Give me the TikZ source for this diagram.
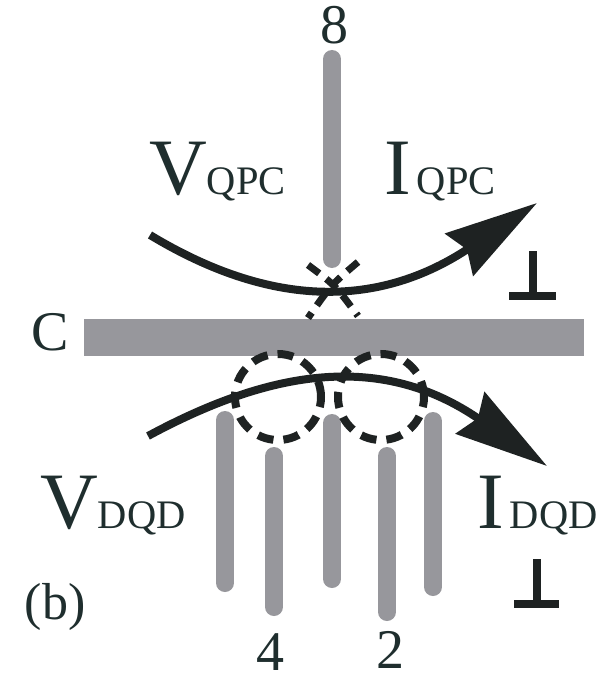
\documentclass[tikz,border=0pt]{standalone}
\usepackage{fontspec}
\setmainfont{Liberation Serif}
\usepackage{xcolor}
\usetikzlibrary{arrows.meta,positioning,calc}
\definecolor{gategray}{HTML}{97979C}
\definecolor{inkdark}{HTML}{1E2222}
\definecolor{labeldark}{HTML}{1F2E2E}
\newcommand{\subfont}{\fontsize{40.5}{40}\selectfont}
\begin{document}
\begin{tikzpicture}[x=1pt,y=-1pt,
   gate/.style={line width=18pt,gategray,line cap=round},
   current/.style={line width=8pt,inkdark,-{Stealth[length=93pt,width=50pt,inset=9pt]}},
   dot/.style={line width=8pt,inkdark,dash pattern=on 16pt off 10pt},
   xdot/.style={line width=7pt,inkdark,dash pattern=on 14pt off 9pt},
   gnd/.style={line width=8pt,inkdark},
   big/.style={anchor=base west,inner sep=0pt,text=labeldark,font=\fontsize{80}{80}\selectfont},
   num/.style={inner sep=0pt,text=labeldark,font=\fontsize{56}{56}\selectfont}]
  \useasboundingbox (0,0) rectangle (611,674);
  % gates
  \coordinate (t8) at (332,59);    \coordinate (b8) at (332,259);
  \coordinate (t1) at (225,420);   \coordinate (b1) at (225,583);
  \coordinate (t4) at (274,456);   \coordinate (b4) at (274,607);
  \coordinate (t3) at (332,423);   \coordinate (b3) at (332,579);
  \coordinate (t2) at (387,456);   \coordinate (b2) at (387,612);
  \coordinate (t5) at (433,421);   \coordinate (b5) at (433,587);
  \foreach \g in {8,1,4,3,2,5}
    \draw[gate] (t\g) -- (b\g);
  \node[fill=gategray,minimum width=500pt,minimum height=37pt,inner sep=0pt] (plate) at (334,337.5) {};
  % dots
  \node[draw=inkdark,dot,circle,minimum size=86pt,inner sep=0pt] (dotl) at (278,397) {};
  \node[draw=inkdark,dot,circle,minimum size=86pt,inner sep=0pt] (dotr) at (381,397) {};
  \coordinate (qtl) at (308,265); \coordinate (qbr) at (358,316);
  \coordinate (qtr) at (358,262); \coordinate (qbl) at (308,318);
  \draw[xdot] (qtl) .. controls (335,285) .. (qbr);
  \draw[xdot] (qtr) .. controls (331,285) .. (qbl);
  % currents
  \coordinate (vq) at (150,235);  \coordinate (iq) at (537,203);
  \coordinate (vd) at (148,436);  \coordinate (id) at (547,466);
  \draw[current] (vq) .. controls (279,313) and (385,304) .. (iq);
  \draw[current] (vd) .. controls (272,369) and (382,352) .. (id);
  % grounds
  \coordinate (g1) at (533,251); \coordinate (g1l) at (509,296); \coordinate (g1r) at (556,296);
  \coordinate (g2) at (537,559); \coordinate (g2l) at (514,604); \coordinate (g2r) at (559,604);
  \draw[gnd] (g1) -- (g1 |- g1l);
  \draw[gnd] (g1l) -- (g1r);
  \draw[gnd] (g2) -- (g2 |- g2l);
  \draw[gnd] (g2l) -- (g2r);
  % labels
  \node[big] (vqpc) at (149,194) {V\subfont QPC};
  \node[big] (iqpc) at (384,194) {I\kern6pt\subfont QPC};
  \node[big] (vdqd) at (40,528) {V\subfont DQD};
  \node[big] (idqd) at (477,528) {I\kern6pt\subfont DQD};
  \node[num] (n8) at (334,25.5) {8};
  \node[num] (cc) at (50,332) {C};
  \node[num,font=\fontsize{52}{52}\selectfont] (pb) at (55,607) {(b)};
  \node[num] (n4) at (270.5,652) {4};
  \node[num] (n2) at (390,650) {2};
\end{tikzpicture}
\end{document}
